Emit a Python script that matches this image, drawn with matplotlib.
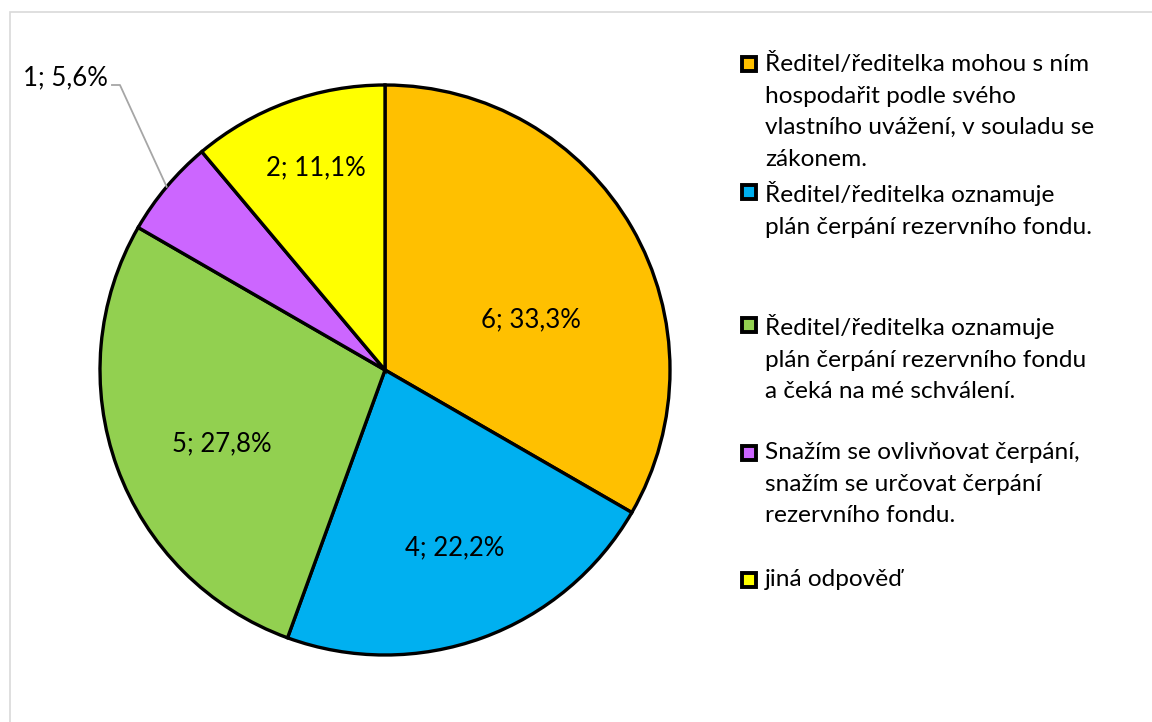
import numpy as np
import matplotlib.pyplot as plt
from matplotlib.patches import Rectangle

plt.rcParams['font.family'] = ['Lato', 'DejaVu Sans']

labels = [
    "Ředitel/ředitelka mohou s ním\nhospodařit podle svého\nvlastního uvážení, v souladu se\nzákonem.",
    "Ředitel/ředitelka oznamuje\nplán čerpání rezervního fondu.",
    "Ředitel/ředitelka oznamuje\nplán čerpání rezervního fondu\na čeká na mé schválení.",
    "Snažím se ovlivňovat čerpání,\nsnažím se určovat čerpání\nrezervního fondu.",
    "jiná odpověď",
]
counts = [6, 4, 5, 1, 2]
colors = ["#FFC000", "#00B0F0", "#92D050", "#CC66FF", "#FFFF00"]

# label layout inside wedges: radial fraction, angle nudge (deg)
label_r = [0.54, 0.67, 0.63, None, 0.75]
label_da = [-11, 1.5, 4.4, 0, -1]
# legend rows: first-line centre in pixels from top
legend_y = [64, 192, 325, 453, 580]

W, H = 1152, 722
fig = plt.figure(figsize=(W / 100, H / 100), dpi=100)

# light grey chart frame
fig.patches.append(Rectangle((10 / W, -0.1), 1.2, 1 - 12 / H + 0.1,
                             transform=fig.transFigure, fill=False,
                             edgecolor="#d9d9d9", lw=1.2))

cx, cy, R = 385, 370, 285
ax = fig.add_axes([(cx - R) / W, (H - cy - R) / H, 2 * R / W, 2 * R / H])
wedges, _ = ax.pie(counts, colors=colors, startangle=90, counterclock=False,
                   radius=1, wedgeprops=dict(edgecolor="black", linewidth=2.4))
ax.set_xlim(-1, 1)
ax.set_ylim(-1, 1)
ax.set_aspect("equal")
ax.axis("off")

total = sum(counts)
for i, (w, v) in enumerate(zip(wedges, counts)):
    txt = f"{v}; {100 * v / total:.1f}%".replace(".", ",")
    mid = np.deg2rad((w.theta1 + w.theta2) / 2 + label_da[i])
    if label_r[i] is None:
        ex, ey = np.cos(mid), np.sin(mid)
        ax.plot([ex, -0.93, -0.958], [ey, 1.0, 1.0], color="#a6a6a6", lw=1.3,
                clip_on=False)
        ax.text(-0.972, 1.025, txt, ha="right", va="center", fontsize=18.5,
                clip_on=False)
    else:
        r = label_r[i]
        ax.text(r * np.cos(mid), r * np.sin(mid), txt, ha="center",
                va="center", fontsize=18.5)

# legend drawn entry by entry to follow the original spacing
for lab, col, y in zip(labels, colors, legend_y):
    fig.patches.append(Rectangle((742 / W, 1 - (y + 7) / H), 14 / W, 14 / H,
                                 transform=fig.transFigure, facecolor=col,
                                 edgecolor="black", lw=2.8))
    fig.text(765 / W, 1 - (y - 11) / H, lab, ha="left", va="top",
             fontsize=17.6, linespacing=1.62)

fig.savefig("out.png", dpi=100)
